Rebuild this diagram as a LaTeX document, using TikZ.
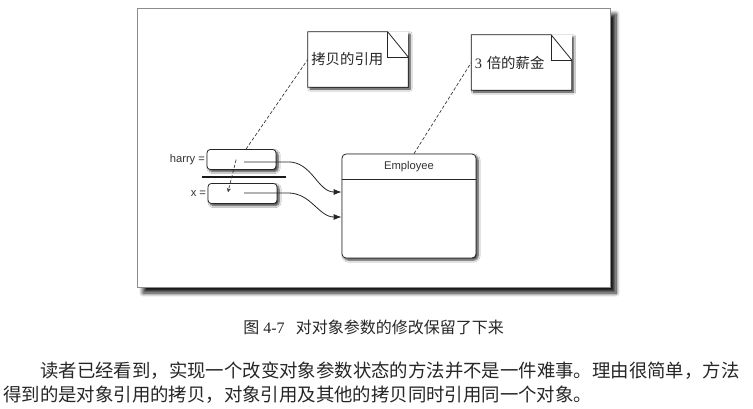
\documentclass[tikz,border=0pt]{standalone}
\usepackage{fontspec}
\setmainfont{Liberation Serif}
\newfontfamily\cjk{Noto Sans CJK SC}
\newfontfamily\labelfont{Liberation Sans}
\usepackage{tikz}
\usetikzlibrary{arrows.meta,positioning,shadows.blur}

\begin{document}
\begin{tikzpicture}[
    x=0.75pt, y=-0.75pt,
    >=Latex,
    shadowed/.style={blur shadow={shadow xshift=1.5pt, shadow yshift=-1.5pt, shadow blur steps=6, shadow blur radius=1.6pt, shadow opacity=80}},
    frame/.style={draw=black!45, line width=0.4pt, fill=white, blur shadow={shadow xshift=4.5pt, shadow yshift=-4.5pt, shadow blur steps=8, shadow blur radius=3pt, shadow opacity=90}},
    varbox/.style={draw=black!85, line width=0.6pt, rounded corners=2.5pt, fill=white, minimum width=51.75pt, minimum height=15pt, inner sep=0pt, shadowed},
    objbox/.style={draw=black!85, line width=0.6pt, rounded corners=3pt, fill=white, minimum width=100.5pt, minimum height=78pt, inner sep=0pt, shadowed},
    note/.style={fill=white, minimum height=41.25pt, text width=70pt, inner xsep=2.5pt, align=left, font=\fontsize{10.8}{13}\selectfont, text=black!85, shadowed},
    noteline/.style={draw=black!85, line width=0.6pt},
    varlabel/.style={font=\labelfont\fontsize{8.4}{10}\selectfont, text=black!80, inner sep=1pt},
    dashline/.style={black!80, dash pattern=on 2.5pt off 1.5pt, line width=0.5pt},
    ref/.style={-{Latex[length=6pt,width=4.5pt]}, black!85, line width=0.6pt},
    caption/.style={font=\fontsize{12}{14}\selectfont, text=black!85, inner sep=0pt, anchor=west},
    body/.style={font=\cjk\fontsize{13.8}{16}\selectfont, text=black!85, inner sep=0pt, anchor=west}
]
\useasboundingbox (0,0) rectangle (753,408);

\draw[frame] (137,8) rectangle (610,287);

\node[note] (cp) at (358,59.5) {{\cjk 拷贝的引用}};
\draw[noteline] ([xshift=-15.5pt]cp.north east) -- (cp.north west) -- (cp.south west) -- (cp.south east) -- ([yshift=-19pt]cp.north east) -- cycle;
\draw[noteline] ([xshift=-15.5pt]cp.north east) |- ([yshift=-19pt]cp.north east);

\node[note] (ps) at (521.5,62.5) {3 {\cjk 倍的薪金}};
\draw[noteline] ([xshift=-15.5pt]ps.north east) -- (ps.north west) -- (ps.south west) -- (ps.south east) -- ([yshift=-19pt]ps.north east) -- cycle;
\draw[noteline] ([xshift=-15.5pt]ps.north east) |- ([yshift=-19pt]ps.north east);

\node[varbox] (hb) at (241.5,159.5) {};
\node[varbox] (xb) at (242.5,193.5) {};
\node[varlabel, left=0pt of hb] {harry =};
\node[varlabel, left=0pt of xb] {x =};
\coordinate (barl) at (202,177);
\coordinate (barr) at (286,177);
\draw[line width=1.6pt, black!90] (barl) -- (barr);

\node[objbox] (emp) at (409,206) {};
\node[varlabel, below=0pt of emp.north, minimum height=18.75pt, inner sep=0pt] (empname) {Employee};
\draw[black!85, line width=0.6pt] (empname.south -| emp.west) -- (empname.south -| emp.east);

\draw[ref] ([xshift=2pt,yshift=-1.8pt]hb.center) -- ++(44,0) to[out=0, in=180] ([yshift=10.5pt]emp.west);
\draw[ref] ([xshift=1.2pt,yshift=0.4pt]xb.center) -- ++(44,0) to[out=0, in=180] ([yshift=-8.25pt]emp.west);
\draw[dashline, -{Stealth[length=3pt,width=3pt]}] ([xshift=-4pt]hb.center) -- ([xshift=-10.9pt,yshift=1pt]xb.center);

\draw[dashline] ([xshift=3.4pt]hb.north) -- (cp.west);
\draw[dashline] ([xshift=3.75pt]emp.north) -- (ps.west);

\node[caption] (cap) at (243,327) {{\cjk 图} 4-7\hspace{0.7em}{\cjk 对对象参数的修改保留了下来}};
\node[body] (l1) at (40,371) {读者已经看到，实现一个改变对象参数状态的方法并不是一件难事。理由很简单，方法};
\node[body] (l2) at (3,395) {得到的是对象引用的拷贝，对象引用及其他的拷贝同时引用同一个对象。};
\end{tikzpicture}
\end{document}
